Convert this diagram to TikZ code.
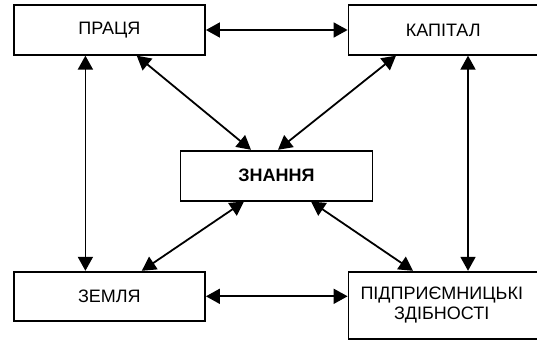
\documentclass[tikz,border=0pt]{standalone}
\usepackage{fontspec}
\setmainfont{Liberation Sans}
\usetikzlibrary{arrows.meta}
\begin{document}
\begin{tikzpicture}[x=1pt,y=-1pt,
  box/.style={draw,line width=1.8pt,rectangle,inner sep=0pt,minimum height=49.5pt,
    font=\fontsize{18}{20}\selectfont,align=center},
  tip/.style={Triangle[length=14pt,width=15pt]},
  arr/.style={line width=1.8pt,{Triangle[length=14pt,width=15pt]}-{Triangle[length=14pt,width=15pt]}}]
\useasboundingbox (0,0) rectangle (537,342);
\node[box,minimum width=191.3pt] (praca) at (109.35,30) {ПРАЦЯ};
\node[box,minimum width=189.5pt] (kapital) at (443.25,30) {КАПІТАЛ};
\node[box,minimum width=192pt,minimum height=49.9pt,font=\fontsize{18}{20}\selectfont\bfseries] (znannia) at (276.4,175.65) {ЗНАННЯ};
\node[box,minimum width=191.3pt,minimum height=49.2pt] (zemlia) at (109.35,296.3) {ЗЕМЛЯ};
\node[box,minimum width=189.5pt,minimum height=67.6pt] (pidpr) at (443.25,305.5) {\hspace*{-3pt}ПІДПРИЄМНИЦЬКІ\\\hspace*{-3pt}ЗДІБНОСТІ};
% horizontal
\draw[arr] (praca.east) -- (kapital.west);
\draw[arr] (zemlia.east) -- (pidpr.west |- zemlia.east);
% vertical
\draw[arr] ([xshift=-23.95pt]praca.south) -- ([xshift=-23.95pt]zemlia.north);
\draw[arr] ([xshift=24.75pt]kapital.south) -- ([xshift=24.75pt]pidpr.north);
% diagonals
\draw[arr] ([xshift=27.35pt]praca.south) -- ([xshift=-25.4pt]znannia.north);
\draw[arr] ([xshift=-47.25pt]kapital.south) -- ([xshift=1.6pt]znannia.north);
\draw[arr] ([xshift=-32.4pt]znannia.south) -- ([xshift=32.45pt]zemlia.north);
\draw[arr] ([xshift=34.6pt]znannia.south) -- ([xshift=-30.25pt]pidpr.north);
\end{tikzpicture}
\end{document}
